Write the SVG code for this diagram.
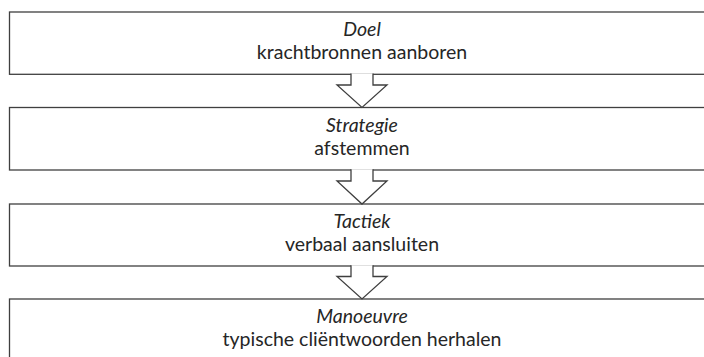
<svg xmlns="http://www.w3.org/2000/svg" width="704" height="357" viewBox="0 0 704 357">
<style>
.box{fill:#fff;stroke:#3f3f3f;stroke-width:1.3}
.arr{fill:#fff;stroke:#3f3f3f;stroke-width:1.3;stroke-linejoin:miter}
text{font-family:Lato,"Liberation Sans",sans-serif;font-size:19.5px;fill:#262626;text-anchor:middle}
.t{font-style:italic}
</style>
<rect width="704" height="357" fill="#fff"/>
<g id="doel"><rect class="box" x="9.5" y="12" width="710" height="62.3"/><text class="t" x="362" y="36">Doel</text><text x="362" y="59">krachtbronnen aanboren</text></g>
<g id="strategie"><rect class="box" x="9.5" y="107.5" width="710" height="62.5"/><text class="t" x="362" y="131.5">Strategie</text><text x="362" y="154.5">afstemmen</text></g>
<g id="tactiek"><rect class="box" x="9.5" y="204" width="710" height="62"/><text class="t" x="362" y="228">Tactiek</text><text x="362" y="251">verbaal aansluiten</text></g>
<g id="manoeuvre"><rect class="box" x="9.5" y="299" width="710" height="80"/><text class="t" x="362" y="323">Manoeuvre</text><text x="362" y="346">typische cliëntwoorden herhalen</text></g>
<g id="connectors">
<path class="arr" d="M351,73.5 V85 H337 L362,107.5 L387,85 H373 V73.5"/>
<path class="arr" d="M351,169.2 V181 H337 L362,204 L387,181 H373 V169.2"/>
<path class="arr" d="M351,265.2 V276.5 H337 L362,299 L387,276.5 H373 V265.2"/>
</g>
</svg>
